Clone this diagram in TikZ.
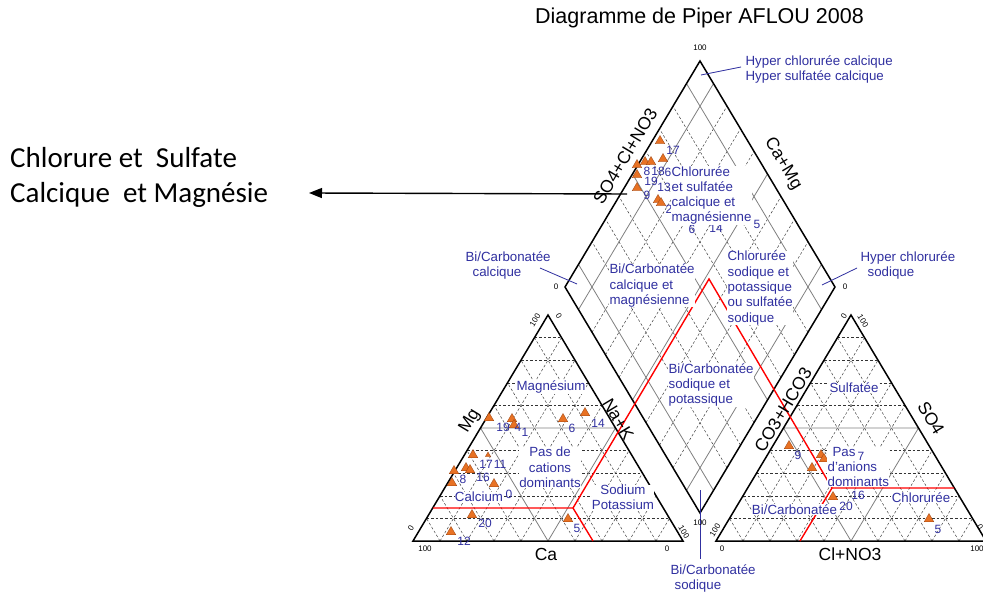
\documentclass[tikz,border=0pt]{standalone}
\usepackage{fontspec}
\setmainfont{Liberation Sans}
\newfontfamily\calibri{Carlito}
\usetikzlibrary{arrows.meta,shapes.geometric}

\definecolor{zoneblue}{RGB}{48,48,160}
\definecolor{ptfill}{RGB}{232,114,36}
\definecolor{ptedge}{RGB}{150,62,12}

\tikzset{
  border/.style={black, line width=1.5pt},
  dashgrid/.style={black!80, line width=0.45pt, dash pattern=on 2.6pt off 2pt},
  solidgrid/.style={black!50, line width=0.8pt},
  facies/.style={red, line width=1.4pt},
  zone/.style={zoneblue, font=\fontsize{13.3}{15.3}\selectfont, inner sep=0.4pt, fill=white},
  ticklbl/.style={font=\fontsize{8}{8}\selectfont, inner sep=0pt},
  axislbl/.style={font=\fontsize{17.5}{17.5}\selectfont, inner sep=0pt},
  sample/.style={regular polygon, regular polygon sides=3, fill=ptfill, draw=ptedge,
    line width=0.3pt, inner sep=0pt, minimum size=11pt},
  smallsample/.style={sample, minimum size=6pt},
  num/.style={zoneblue, font=\fontsize{12}{12}\selectfont, inner sep=0pt},
  pointer/.style={zoneblue, line width=0.8pt},
}

\begin{document}
\begin{tikzpicture}[x=1pt, y=-1pt]
\useasboundingbox (0,0) rectangle (983,596);
\fill[white] (0,0) rectangle (983,596);

% cation and anion triangles
\foreach \ox in {413,716}{
  \begin{scope}[shift={(\ox,541)}, x={(27pt,0pt)}, y={(13.5pt,22.6pt)}]
    \foreach \k in {1,2,3,4,6,7,8,9}{
      \pgfmathtruncatemacro{\rest}{10-\k}
      \draw[dashgrid] (0,\k) -- (\rest,\k);
      \draw[dashgrid] (\k,0) -- (\k,\rest);
      \draw[dashgrid] (\k,0) -- (0,\k);
    }
    \draw[solidgrid] (0,5) -- (5,5) -- (5,0) -- cycle;
    \draw[border] (0,0) -- (10,0) -- (0,10) -- cycle;
  \end{scope}
}

% losange central
\begin{scope}[shift={(700,513)}, x={(-13.5pt,22.6pt)}, y={(13.5pt,22.6pt)}]
  \foreach \k in {2,3,4,6,7,8}{
    \draw[dashgrid] (\k,0) -- (\k,10);
    \draw[dashgrid] (0,\k) -- (10,\k);
  }
  \foreach \k in {1,5,9}{
    \draw[solidgrid] (\k,0) -- (\k,10);
    \draw[solidgrid] (0,\k) -- (10,\k);
  }
  \draw[border] (0,0) -- (10,0) -- (10,10) -- (0,10) -- cycle;
\end{scope}

% limites des facies
\draw[facies] (433,508) -- (573,508) -- (709,279) -- (832,488) -- (954,488);
\draw[facies] (573,508) -- (593,541);
\draw[facies] (832,488) -- (800,541);

% echantillons
\foreach \nm/\p in {dA/{660,141}, dB/{663,159}, dC/{637,165}, dD/{645,162}, dE/{651,162},
    dF/{637,175}, dG/{637,188}, dH/{658,200}, dI/{661,203},
    lA/{489,418}, lB/{512,419}, lC/{514,425}, lD/{563,419}, lE/{585,413}, lF/{473,455},
    lH/{454,471}, lI/{466,468}, lJ/{470,470}, lK/{452,483}, lL/{494,484}, lM/{472,515},
    lN/{451,532}, lO/{568,519},
    rA/{789,446}, rB/{821,455}, rC/{824,459}, rE/{812,468}, rF/{833,497}, rG/{929,519}}{
  \node[sample] (\nm) at (\p) {};
}
\node[smallsample] (lG) at (488,455) {};
\node[smallsample] (rD) at (833,452) {};

\foreach \nm/\p/\t in {nd17/{673,150}/17, nd8/{647,171}/8, nd18/{658,171}/18, nd6/{668,172}/6,
    nd19/{651,181}/19, nd9/{647,195}/9, nd13/{664,187}/13, nd2/{669,209}/2,
    nd6b/{692,229}/6, nd14/{716,228}/14, nd5/{757,224}/5,
    nl19/{503,427}/19, nl4/{518,427}/4, nl1/{525,432}/1, nl6/{572,428}/6, nl14/{598,423}/14,
    nl17/{486,464}/17, nl11/{500,464}/11, nl8/{463,479}/8, nl16/{483,477}/16, nl0/{509,494}/0,
    nl20/{485,523}/20, nl12/{464,541}/12, nl5/{577,528}/5,
    nr9/{798,455}/9, nr16/{858,495}/16, nr20/{846,506}/20, nr5/{938,529}/5}{
  \node[num] (\nm) at (\p) {\t};
}

% zones
\node[zone, anchor=west, align=left, fill=none] (hypcc) at (745,69.5) {Hyper chlorurée calcique\\Hyper sulfatée calcique};
\node[zone, anchor=west, align=left, fill=none] (bicc) at (465,265.5) {Bi/Carbonatée\\\hspace*{7pt}calcique};
\node[zone, anchor=west, align=left, fill=none] (hypcs) at (860,265.5) {Hyper chlorurée\\\hspace*{7pt}sodique};
\node[zone, anchor=west, align=left, fill=none] (bics) at (670,578.5) {Bi/Carbonatée\\\hspace*{4pt}sodique};
\node[zone, anchor=west, align=left] (zcsc) at (671,195.5) {Chlorurée\\et sulfatée\\calcique et\\magnésienne};
\node[zone, anchor=west, align=left] (zbcc) at (609,285.5) {Bi/Carbonatée\\calcique et\\magnésienne};
\node[zone, anchor=west, align=left] (zcsp) at (727,288) {Chlorurée\\sodique et\\potassique\\ou sulfatée\\sodique};
\node[zone, anchor=west, align=left] (zbsp) at (668,385) {Bi/Carbonatée\\sodique et\\potassique};
\node[zone] (zmg) at (551,387) {Magnésium};
\node[zone, align=center] (zpc) at (550,467.5) {Pas de\\cations\\dominants};
\node[zone] (zca) at (479,497) {Calcium};
\node[zone, align=center] (zna) at (623,497.5) {Sodium\\Potassium};
\node[zone] (zso) at (854,388) {Sulfatée};
\node[zone, anchor=west, align=left] (zpa) at (827,467) {\hspace*{5pt}Pas\\d'anions\\dominants};
\node[zone] (zcl) at (921,497.5) {Chlorurée};
\node[zone] (zbi) at (794.5,509.5) {Bi/Carbonatée};
\node[num] (nr7) at (861,456) {7};

% renvois
\coordinate (hypccA) at (701,75);  \coordinate (hypccB) at (741,67);
\coordinate (biccA) at (540,268);  \coordinate (biccB) at (577,284);
\coordinate (hypcsA) at (822,285); \coordinate (hypcsB) at (857,268);
\coordinate (bicsA) at (700,490);  \coordinate (bicsB) at (700,559);
\draw[pointer] (hypccA) -- (hypccB);
\draw[pointer] (biccA) -- (biccB);
\draw[pointer] (hypcsA) -- (hypcsB);
\draw[pointer] (bicsA) -- (bicsB);

% axes
\node[axislbl, rotate=59] (axso) at (625,156) {SO4+Cl+NO3};
\node[axislbl, rotate=-59] (axcm) at (783,164) {Ca+Mg};
\node[axislbl, rotate=59] (axmg) at (470,421) {Mg};
\node[axislbl, rotate=-59] (axnk) at (618,419) {Na+K};
\node[axislbl] (axca) at (546,554) {Ca};
\node[axislbl, rotate=59] (axco) at (783,410) {CO3+HCO3};
\node[axislbl, rotate=-59] (axs4) at (931,418) {SO4};
\node[axislbl] (axcl) at (850,554) {Cl+NO3};

% graduations
\node[ticklbl] (t1) at (700,48) {100};
\node[ticklbl] (t2) at (556,287) {0};
\node[ticklbl] (t3) at (845,287) {0};
\node[ticklbl] (t4) at (700,523) {100};
\node[ticklbl] (t5) at (425,549) {100};
\node[ticklbl] (t6) at (667,549) {0};
\node[ticklbl, rotate=59] (t7) at (411,528) {0};
\node[ticklbl, rotate=59] (t8) at (535,320) {100};
\node[ticklbl, rotate=-59] (t9) at (559,316) {0};
\node[ticklbl, rotate=-59] (t10) at (684,532) {100};
\node[ticklbl] (t11) at (722,549) {0};
\node[ticklbl] (t12) at (977,549) {100};
\node[ticklbl, rotate=59] (t13) at (715,530) {100};
\node[ticklbl, rotate=59] (t14) at (844,316) {0};
\node[ticklbl, rotate=-59] (t15) at (863,321) {100};
\node[ticklbl, rotate=-59] (t16) at (980,527) {0};

% titre et renvoi
\node[font=\fontsize{21.5}{21.5}\selectfont] (title) at (699.5,18) {Diagramme de Piper AFLOU 2008};
\node[font=\calibri\fontsize{29}{35}\selectfont, align=left, anchor=west, inner sep=0pt] (note) at (10,177.5) {Chlorure et\ \ Sulfate\\Calcique\ \ et Magnésie};
\coordinate (arrtail) at (627,194);
\coordinate (arrtip) at (309,193);
\draw[-{Triangle[length=13pt,width=10pt]}, line width=1.4pt] (arrtail) -- (arrtip);
\end{tikzpicture}
\end{document}
